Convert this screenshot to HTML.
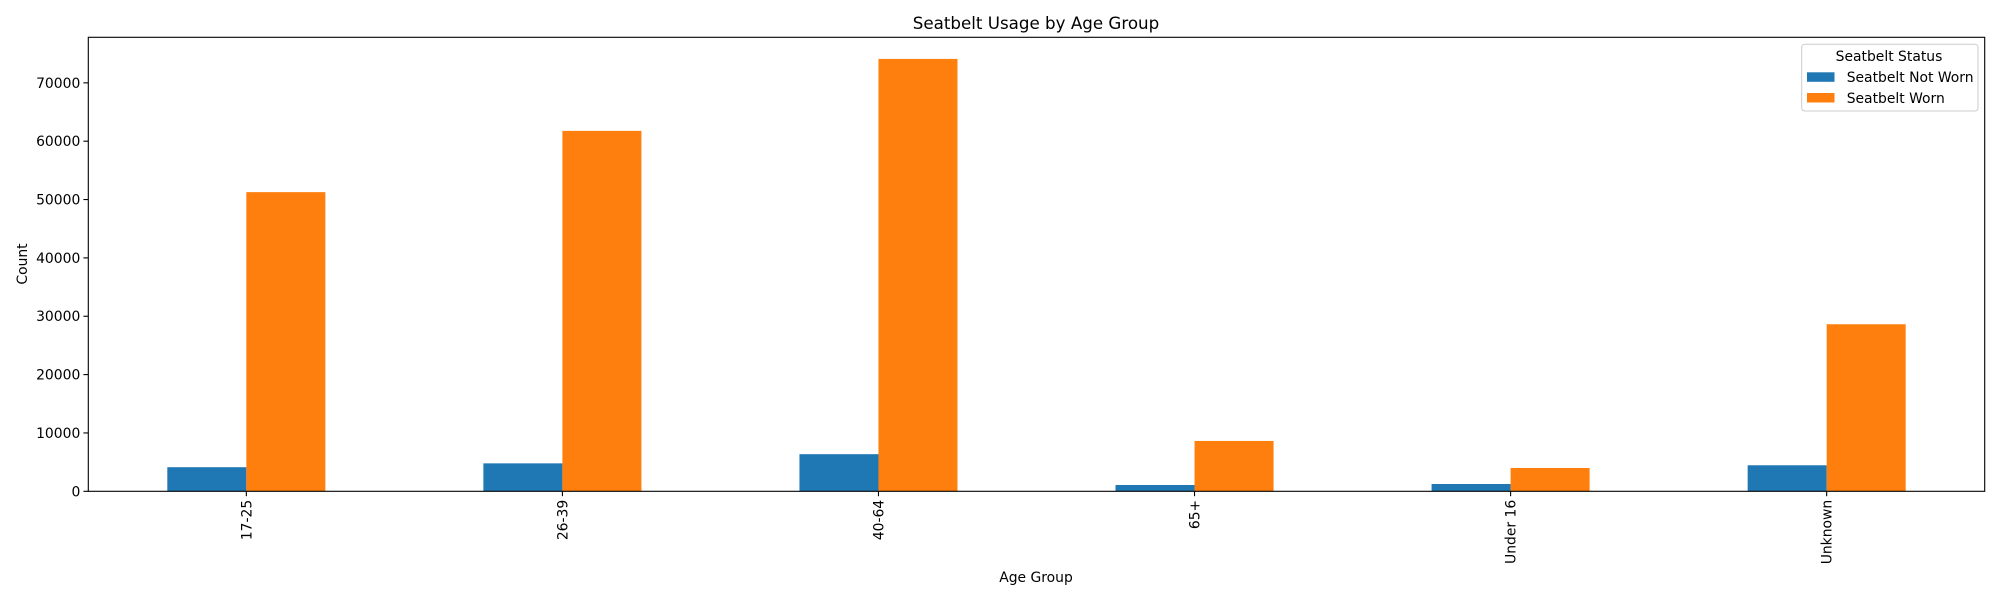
<!DOCTYPE html>
<html><head><meta charset="utf-8"><style>
html,body{margin:0;padding:0;background:#fff;}
svg{display:block;font-family:"DejaVu Sans","Liberation Sans",sans-serif;}
</style></head><body>
<svg id="chart" width="2000" height="600" viewBox="0 0 2000 600">
<text x="1036" y="29" font-size="16.7" text-anchor="middle" fill="#000">Seatbelt Usage by Age Group</text>
<text x="1036" y="582" font-size="13.9" text-anchor="middle" fill="#000">Age Group</text>
<text transform="translate(27,264) rotate(-90)" font-size="13.9" text-anchor="middle" fill="#000">Count</text>
<g id="bars"></g>
<g id="yticks"></g>
<g id="xticks"></g>
<rect x="88.3" y="37.3" width="1896.4" height="454" fill="none" stroke="#000" stroke-width="1.1"/>
<g>
<rect x="1801.7" y="44.3" width="176.3" height="66.7" rx="3" fill="#fff" fill-opacity="0.8" stroke="#ccc"/>
<text x="1889" y="61" font-size="13.9" text-anchor="middle">Seatbelt Status</text>
<rect x="1807" y="72.3" width="27.5" height="9.5" fill="#1f77b4"/>
<text x="1846.7" y="82" font-size="13.9">Seatbelt Not Worn</text>
<rect x="1807" y="93" width="27.5" height="9.5" fill="#ff7f0e"/>
<text x="1846.7" y="103" font-size="13.9">Seatbelt Worn</text>
</g>
</svg>
<script>
const categories = ["17-25","26-39","40-64","65+","Under 16","Unknown"];
const notWorn = [4130,4790,6360,1080,1250,4460];
const worn = [51270,61770,74100,8630,4000,28630];
const yTicks = [0,10000,20000,30000,40000,50000,60000,70000];
const NS="http://www.w3.org/2000/svg";
const L=88.3,R=1984.7,T=37.3,B=491.3;
const ymax=Math.max(...notWorn,...worn)*1.05;
function y(v){return B-(v/ymax)*(B-T);}
const step=(R-L)/categories.length;
function xc(i){return L+step*(i+0.5);}
const bw=step*0.25;
function mk(tag,attrs){const e=document.createElementNS(NS,tag);for(const k in attrs)e.setAttribute(k,attrs[k]);return e;}
const bars=document.getElementById('bars'),yt=document.getElementById('yticks'),xt=document.getElementById('xticks');
categories.forEach((c,i)=>{
  const b1=mk('rect',{x:xc(i)-bw,y:y(notWorn[i]),width:bw,height:B-y(notWorn[i]),fill:'#1f77b4'});
  
  
  bars.appendChild(b1);
  const b2=mk('rect',{x:xc(i),y:y(worn[i]),width:bw,height:B-y(worn[i]),fill:'#ff7f0e'});
  
  
  bars.appendChild(b2);
  const tk=mk('line',{x1:xc(i),x2:xc(i),y1:B,y2:B+4.9,stroke:'#000','stroke-width':1.1});
  
  
  xt.appendChild(tk);
  const t=mk('text',{transform:`translate(${xc(i)+5},${B+8.5}) rotate(-90)`,'font-size':13.9,'text-anchor':'end'});
  t.textContent=c;
  
  
  xt.appendChild(t);
});
yTicks.forEach(v=>{
  const tk=mk('line',{x1:L-4.9,x2:L,y1:y(v),y2:y(v),stroke:'#000','stroke-width':1.1});
  
  
  yt.appendChild(tk);
  const t=mk('text',{x:L-8,y:y(v)+5,'font-size':13.9,'text-anchor':'end'});
  t.textContent=String(v);
  
  
  yt.appendChild(t);
});
</script>
</body></html>
